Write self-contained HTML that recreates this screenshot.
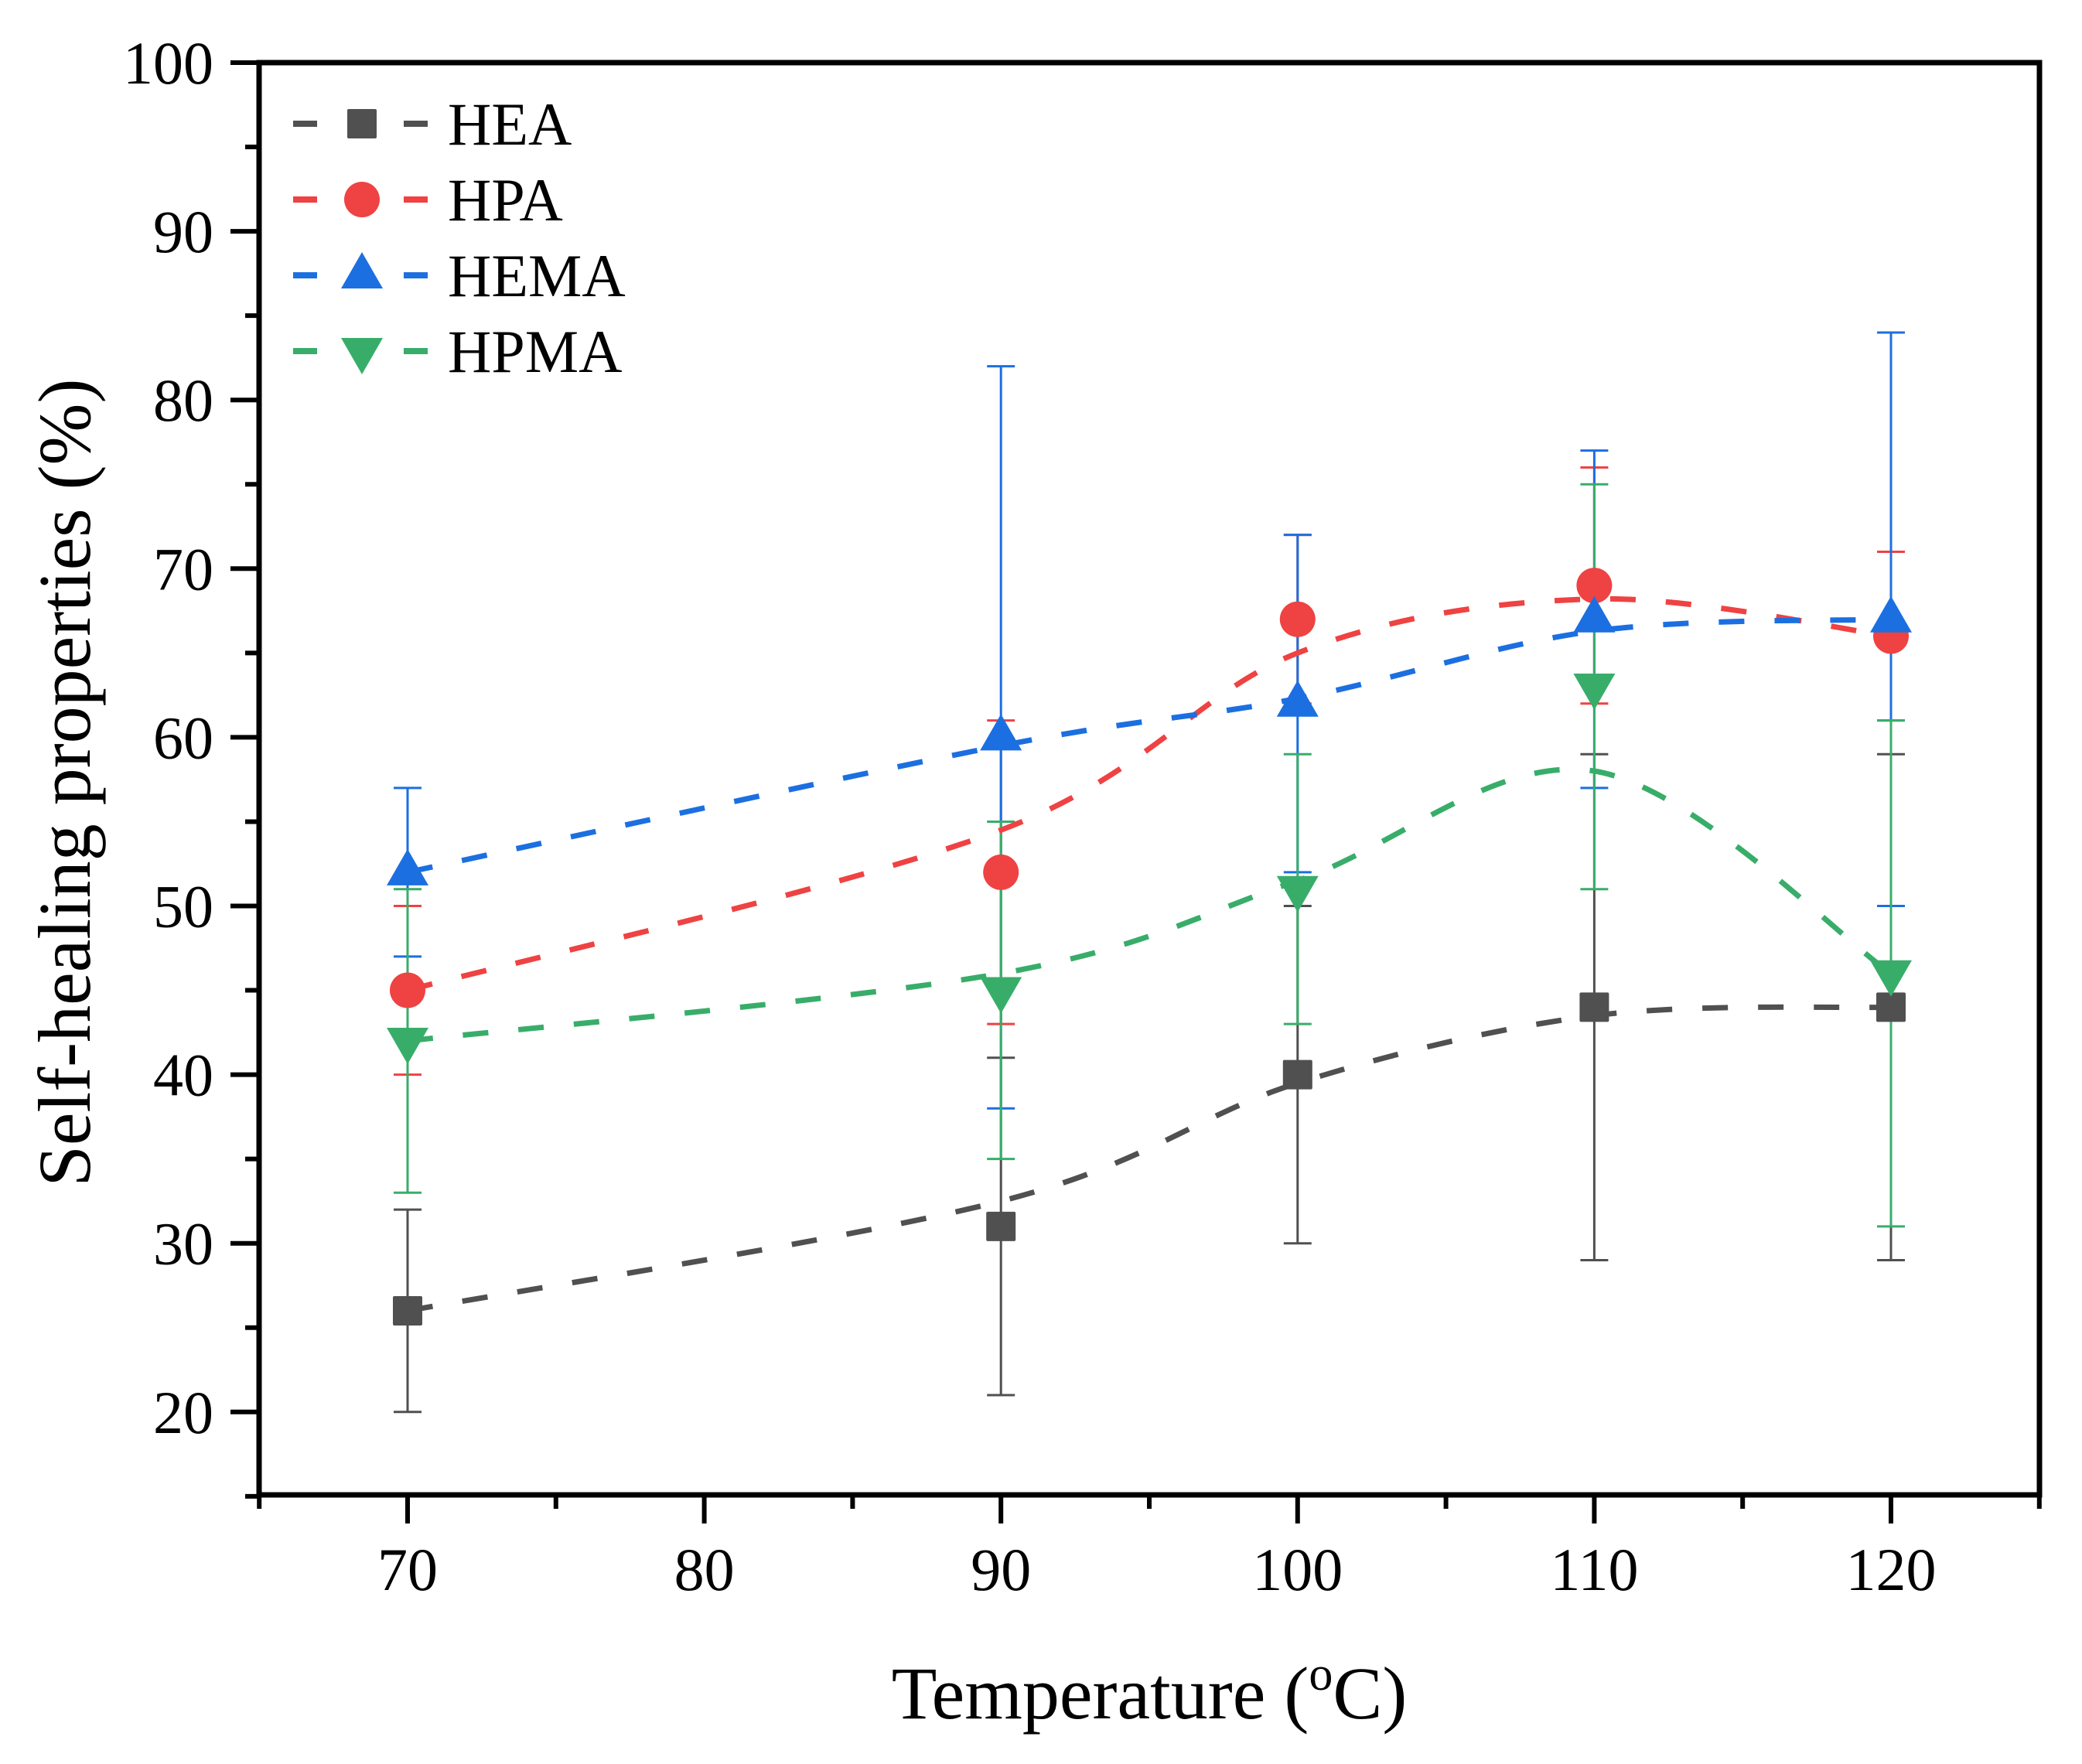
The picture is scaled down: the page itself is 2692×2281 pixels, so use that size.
<!DOCTYPE html>
<html><head><meta charset="utf-8"><style>
html,body{margin:0;padding:0;background:#fff;}
svg{display:block;font-family:"Liberation Serif",serif;}
</style></head><body>
<svg id="chart" width="2692" height="2281" viewBox="0 0 2692 2281" xmlns="http://www.w3.org/2000/svg">
<g id="plot"></g>
<g id="axes"></g>
<g id="legend"></g>
<text x="1486" y="2222" font-size="96" text-anchor="middle">Temperature (<tspan font-size="62" dy="-37">o</tspan><tspan dy="37">C)</tspan></text>
<text transform="translate(116,1012) rotate(-90)" font-size="96" text-anchor="middle">Self-healing properties (%)</text>
</svg>
<script>
const temps = [70, 90, 100, 110, 120];
const seriesNames = ['HEA', 'HPA', 'HEMA', 'HPMA'];
const heaValues = [26, 31, 40, 44, 44];
const heaErr = [6, 10, 10, 15, 15];
const heaFit = [26, 32.5, 39.5, 43.5, 44];
const hpaValues = [45, 52, 67, 69, 66];
const hpaErr = [5, 9, 5, 7, 5];
const hpaFit = [45, 54.5, 65, 68.2, 66];
const hemaValues = [52, 60, 62, 67, 67];
const hemaErr = [5, 22, 10, 10, 17];
const hemaFit = [52, 59.5, 62.3, 66.3, 67];
const hpmaValues = [42, 45, 51, 63, 46];
const hpmaErr = [9, 10, 8, 12, 15];
const hpmaFit = [42, 46, 51.5, 58, 46];
const yTicks = [20, 30, 40, 50, 60, 70, 80, 90, 100];
const xTicks = [70, 80, 90, 100, 110, 120];

const NS = 'http://www.w3.org/2000/svg';
const L = 335, R = 2637, T = 81, B = 1933;
function xs(v){ return 527 + (v - 70) * 38.36; }
function ys(v){ return 81 + (100 - v) * 21.81; }
function mk(tag, attrs, parent){ const e = document.createElementNS(NS, tag); for (const k in attrs) e.setAttribute(k, attrs[k]); parent.appendChild(e); return e; }

const colors = ['#505050', '#ef4242', '#1c6fe0', '#38ad6a'];
const shapes = ['square', 'circle', 'up', 'down'];
const vals = [heaValues, hpaValues, hemaValues, hpmaValues];
const errs = [heaErr, hpaErr, hemaErr, hpmaErr];
const fits = [heaFit, hpaFit, hemaFit, hpmaFit];
const plot = document.getElementById('plot');
const axes = document.getElementById('axes');
const legend = document.getElementById('legend');

function marker(shape, cx, cy, color, parent){
  let e;
  if (shape === 'square') e = mk('rect', {x: cx - 19, y: cy - 19, width: 38, height: 38, rx: 2, fill: color}, parent);
  else if (shape === 'circle') e = mk('circle', {cx: cx, cy: cy, r: 23, fill: color}, parent);
  else if (shape === 'up') e = mk('polygon', {points: `${cx},${cy-30} ${cx+27},${cy+17} ${cx-27},${cy+17}`, fill: color}, parent);
  else e = mk('polygon', {points: `${cx},${cy+30} ${cx+27},${cy-17} ${cx-27},${cy-17}`, fill: color}, parent);
  return e;
}

function smoothPath(xv, yv){
  const p = xv.map((x, i) => [xs(x), ys(yv[i])]);
  let d = `M${p[0][0]},${p[0][1]}`;
  for (let i = 0; i < p.length - 1; i++){
    const p0 = p[Math.max(0, i-1)], p1 = p[i], p2 = p[i+1], p3 = p[Math.min(p.length-1, i+2)];
    const c1x = p1[0] + (p2[0]-p0[0])/6, c1y = p1[1] + (p2[1]-p0[1])/6;
    const c2x = p2[0] - (p3[0]-p1[0])/6, c2y = p2[1] - (p3[1]-p1[1])/6;
    d += ` C${c1x},${c1y} ${c2x},${c2y} ${p2[0]},${p2[1]}`;
  }
  return d;
}

seriesNames.forEach((name, s) => {
  const g = mk('g', {}, plot);
  
  
  temps.forEach((t, i) => {
    const x = xs(t), y1 = ys(vals[s][i] + errs[s][i]), y2 = ys(vals[s][i] - errs[s][i]);
    const bar = mk('path', {d: `M${x},${y1}V${y2}M${x-18},${y1}H${x+18}M${x-18},${y2}H${x+18}`, stroke: colors[s], 'stroke-width': 3, fill: 'none'}, g);
    
    
  });
});
seriesNames.forEach((name, s) => {
  const line = mk('path', {d: smoothPath(temps, fits[s]), stroke: colors[s], 'stroke-width': 7, fill: 'none', 'stroke-dasharray': '33 39'}, plot);
  
  
});
seriesNames.forEach((name, s) => {
  temps.forEach((t, i) => {
    const m = marker(shapes[s], xs(t), ys(vals[s][i]), colors[s], plot);
    
    
  });
});

const frame = mk('rect', {x: L, y: T, width: R - L, height: B - T, fill: 'none', stroke: '#000', 'stroke-width': 7}, axes);


for (let v = 15; v <= 100; v += 5){
  const major = v % 10 === 0;
  const tk = mk('line', {x1: L, x2: L - (major ? 37 : 18), y1: ys(v), y2: ys(v), stroke: '#000', 'stroke-width': 6}, axes);
  
  
}
yTicks.forEach(v => {
  const t = mk('text', {x: 276, y: ys(v) + 27, 'font-size': 78, 'text-anchor': 'end'}, axes);
  t.textContent = v;
  
  
});
for (let v = 65; v <= 125; v += 5){
  const major = v % 10 === 0;
  const tk = mk('line', {x1: xs(v), x2: xs(v), y1: B, y2: B + (major ? 37 : 18), stroke: '#000', 'stroke-width': 6}, axes);
  
  
}
xTicks.forEach(v => {
  const t = mk('text', {x: xs(v), y: 2056, 'font-size': 78, 'text-anchor': 'middle'}, axes);
  t.textContent = v;
  
  
});

const legY = [160, 258, 356, 454];
seriesNames.forEach((name, s) => {
  const g = mk('g', {}, legend);
  
  
  const y = legY[s];
  mk('line', {x1: 379, x2: 410, y1: y, y2: y, stroke: colors[s], 'stroke-width': 8}, g);
  mk('line', {x1: 522, x2: 553, y1: y, y2: y, stroke: colors[s], 'stroke-width': 8}, g);
  marker(shapes[s], 468, y, colors[s], g);
  const t = mk('text', {x: 579, y: y + 27, 'font-size': 78}, g);
  t.textContent = name;
});
</script>
</body></html>
